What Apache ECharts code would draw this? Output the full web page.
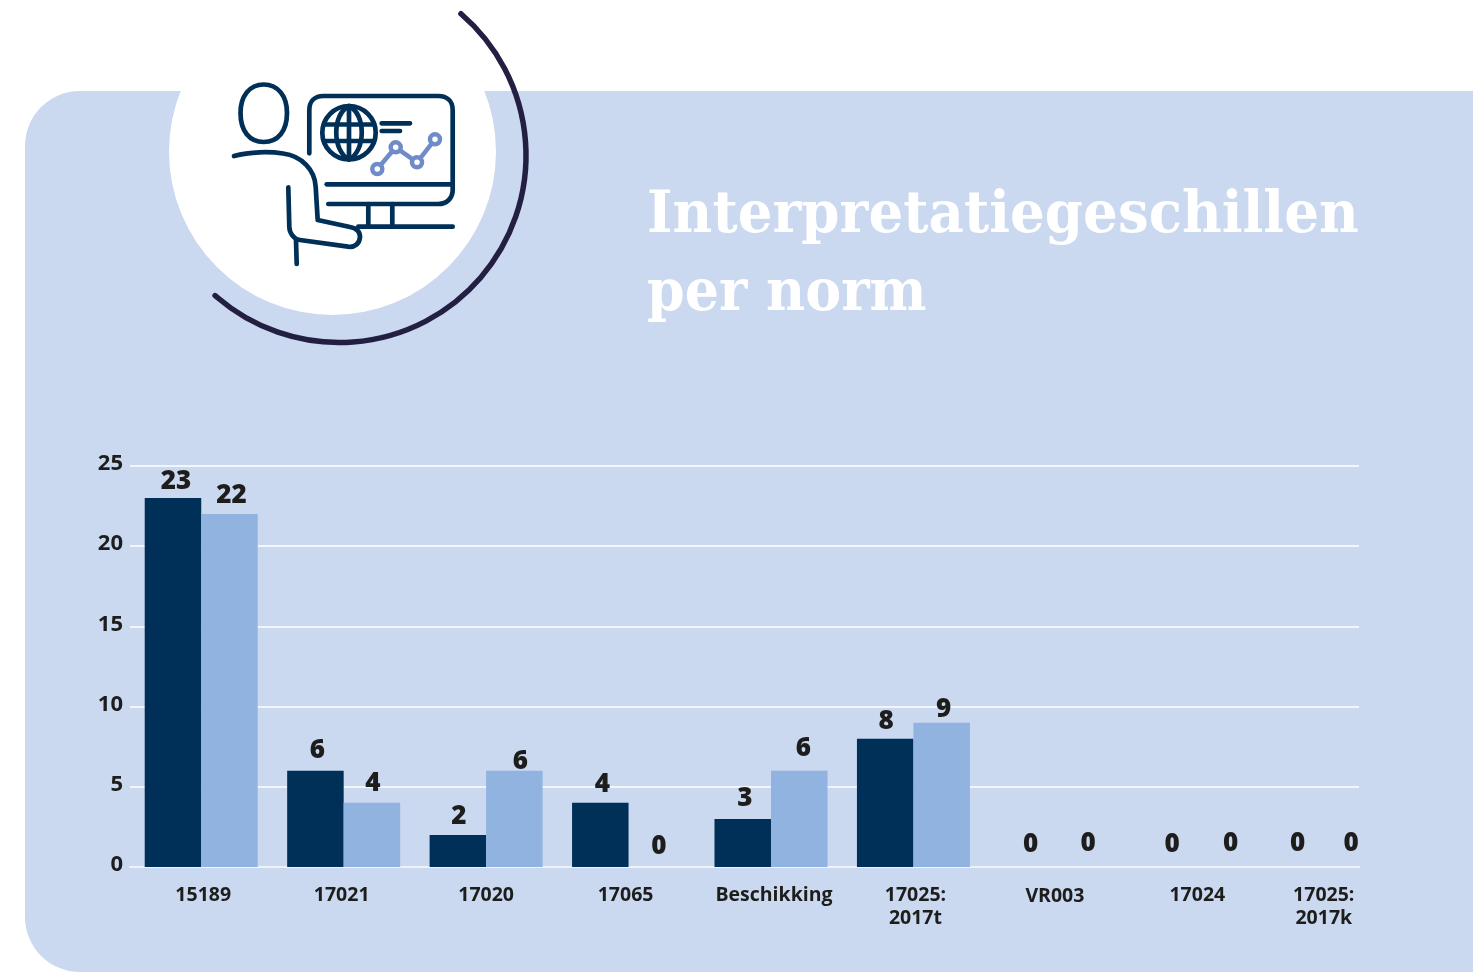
<!DOCTYPE html>
<html>
<head>
<meta charset="utf-8">
<title>Interpretatiegeschillen per norm</title>
<script src="https://cdn.jsdelivr.net/npm/echarts@6/dist/echarts.min.js"></script>
<style>
  html, body { margin: 0; padding: 0; background: #fff; }
  #chart { width: 1473px; height: 972px; }
</style>
</head>
<body>
<div id="chart"></div>
<script>
var categories = ['15189', '17021', '17020', '17065', 'Beschikking', '17025:\n2017t', 'VR003', '17024', '17025:\n2017k'];
var darkValues = [23, 6, 2, 4, 3, 8, 0, 0, 0];
var lightValues = [22, 4, 6, 0, 6, 9, 0, 0, 0];
var yTicks = { min: 0, max: 25, interval: 5 };

// hand tuning, the labels in the original are not quite centred
var darkNudge = [[3, 2], [2, -2], [1, 0], [2, 0], [2, -2], [1, 1], [3, -4], [2, -4], [-15, -5]];
var lightNudge = [[2, -1], [1, -1], [6, 9], [2, -2], [4, -4], [2, 5], [4, -5], [4, -5], [-18, -5]];
var catNudge = [2, -2, 0, -3, 3, 2, -1, -1, -17];
var catDrop = [0, 0, 0, 0, 0, 0, 2, 0, 0];

var NAVY = '#003057';
var INK = '#1d1d1b';
var PANEL = '#cad8f0';
var FONT = '"Open Sans"';

function barData(values, nudge) {
  return values.map(function (v, i) {
    return { value: v, label: { offset: nudge[i] } };
  });
}

var catRich = {};
catNudge.forEach(function (dx, i) {
  catRich['c' + i] = {
    fontFamily: FONT, fontWeight: 700, fontSize: 19.5, color: INK, lineHeight: 23,
    padding: dx > 0 ? [catDrop[i], 0, 0, dx * 2] : [catDrop[i], -dx * 2, 0, 0]
  };
});

// graphic component has no plain path type, so register each icon stroke as a shape
var shapeCount = 0;
function stroke(d, color, width) {
  var name = 'iconStroke' + (shapeCount++);
  echarts.graphic.registerShape(name, echarts.graphic.extendPath(d, {}));
  return {
    type: name, z: -1,
    style: { fill: null, stroke: color, lineWidth: width, lineCap: 'round', lineJoin: 'round' }
  };
}

var iconPaths = [
  // head
  'M263.7 84.5 C278 84.5 287 96 287 113 C287 131 278 142 263.7 142 C249.5 142 240.5 131 240.5 113 C240.5 96 249.5 84.5 263.7 84.5 Z',
  // shoulder and arm
  'M234 156 C250 151.5 270 151.5 283 153.5 C302 156 315 170 315.7 187 L317.7 220 L350 227 C358 228.5 360 233 360 237 C359.5 243.5 355 247.5 348 246.7 L300 240 C293.5 239 289.5 233 289.3 226.7 L288.3 187.3',
  'M296 240 L296.7 264',
  // monitor
  'M309.3 153.3 L309.3 110 C309.3 101 315 96 323.3 96 L438.3 96 C447 96 452.7 101 452.7 110 L452.7 190 C452.7 198 447 204 438.3 204 L328.3 204',
  'M326.7 184.3 L451.7 184.3',
  'M368.3 204 L368.3 226.5 M392.3 204 L392.3 226.5 M358.3 226.7 L452.7 226.7',
  // globe
  'M349 106 L349 159.4 M324 124.5 L374 124.5 M324 141 L374 141',
  'M349 106 C332 114 332 151 349 159.4 C366 151 366 114 349 106 Z',
  // text lines next to the globe
  'M381.7 123.3 L410 123.3 M381.7 131 L400 131'
];

var titleStyle = { fontFamily: '"DejaVu Serif"', fontWeight: 'bold', fontSize: 57, lineHeight: 78, fill: '#fff' };

var graphics = [
  { type: 'rect', z: -3, shape: { x: 25, y: 91, width: 1500, height: 881, r: [55, 0, 0, 55] }, style: { fill: PANEL } },
  { type: 'circle', z: -2, shape: { cx: 332.5, cy: 151.5, r: 163.5 }, style: { fill: '#fff' } },
  {
    type: 'arc', z: -1,
    shape: { cx: 339, cy: 155.5, r: 187, startAngle: -49.3 * Math.PI / 180, endAngle: 131.5 * Math.PI / 180, clockwise: true },
    style: { fill: null, stroke: '#231f42', lineWidth: 5.5, lineCap: 'round' }
  },
  { type: 'circle', z: -1, shape: { cx: 349, cy: 132.7, r: 26.7 }, style: { fill: null, stroke: NAVY, lineWidth: 4.7 } },
  // squeezed a little, the original slab face is narrower than DejaVu Serif
  { type: 'text', z: -1, x: 647, y: 178, scaleX: 0.96, style: Object.assign({ text: 'Interpretatiegeschillen' }, titleStyle) },
  { type: 'text', z: -1, x: 647, y: 256, scaleX: 0.945, style: Object.assign({ text: 'per norm' }, titleStyle) }
];
iconPaths.forEach(function (d) { graphics.push(stroke(d, NAVY, 4.7)); });
graphics.push(stroke('M377.3 169 L395.7 147.3 L417 162.3 L435 139.3', '#6f8cc8', 4.5));
[[377.3, 169], [395.7, 147.3], [417, 162.3], [435, 139.3]].forEach(function (p) {
  graphics.push({
    type: 'circle', z: -1, shape: { cx: p[0], cy: p[1], r: 5 },
    style: { fill: '#fff', stroke: '#6f8cc8', lineWidth: 4.5 }
  });
});

var chart = echarts.init(document.getElementById('chart'));
var option = {
  animation: false,
  backgroundColor: '#fff',
  graphic: graphics,
  // first grid carries the ruled lines, they stop short of the last bars' band
  grid: [
    { left: 130, top: 466, width: 1229, height: 401 },
    { left: 130, top: 466, width: 1282, height: 401 }
  ],
  xAxis: [
    {
      gridIndex: 0, type: 'value', min: 0, max: 1,
      axisLabel: { show: false }, axisTick: { show: false }, splitLine: { show: false },
      axisLine: { show: true, onZero: false, lineStyle: { color: '#eef2fa', width: 2 } }
    },
    {
      gridIndex: 1, type: 'category', data: categories,
      axisLine: { show: false }, axisTick: { show: false },
      axisLabel: {
        interval: 0, margin: 17,
        formatter: function (value, i) {
          return value.split('\n').map(function (line) {
            return '{c' + i + '|' + line + '}';
          }).join('\n');
        },
        rich: catRich
      }
    }
  ],
  yAxis: [
    {
      gridIndex: 0, type: 'value', min: yTicks.min, max: yTicks.max, interval: yTicks.interval,
      axisLine: { show: false }, axisTick: { show: false },
      axisLabel: { margin: 7, verticalAlign: 'bottom', lineHeight: 4, fontFamily: FONT, fontWeight: 700, fontSize: 22, color: INK },
      splitLine: { lineStyle: { color: '#fff', width: 1.5 } }
    },
    {
      gridIndex: 1, type: 'value', min: yTicks.min, max: yTicks.max, interval: yTicks.interval,
      show: false
    }
  ],
  series: [
    {
      type: 'bar', xAxisIndex: 1, yAxisIndex: 1, data: barData(darkValues, darkNudge),
      barWidth: 56.5, barGap: 0,
      itemStyle: { color: NAVY },
      label: { show: true, position: 'top', distance: 5, fontFamily: FONT, fontWeight: 800, fontSize: 26, color: INK }
    },
    {
      type: 'bar', xAxisIndex: 1, yAxisIndex: 1, data: barData(lightValues, lightNudge),
      barWidth: 56.5, barGap: 0,
      itemStyle: { color: '#90b3e0' },
      label: { show: true, position: 'top', distance: 5, fontFamily: FONT, fontWeight: 800, fontSize: 26, color: INK }
    }
  ]
};
chart.setOption(option);
</script>
</body>
</html>
